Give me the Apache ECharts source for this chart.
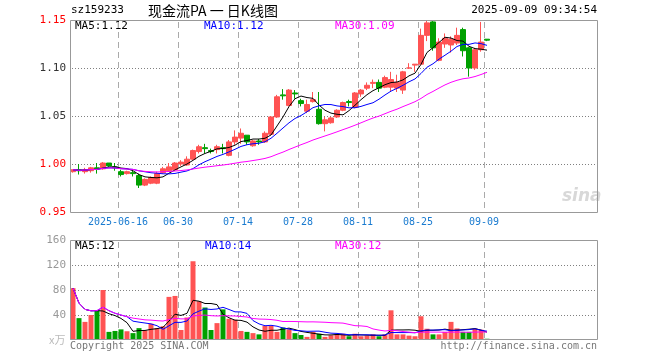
<!DOCTYPE html>
<html><head><meta charset="utf-8">
<script src="https://cdn.jsdelivr.net/npm/echarts@6/dist/echarts.min.js"></script>
<style>html,body{margin:0;padding:0;background:#fff}#c{width:660px;height:360px}</style>
</head><body><div id="c"></div>
<script>
// ---- data ----
const dates = ['2025-06-04','2025-06-05','2025-06-06','2025-06-09','2025-06-10','2025-06-11','2025-06-12','2025-06-13',
'2025-06-16','2025-06-17','2025-06-18','2025-06-19','2025-06-20','2025-06-23','2025-06-24','2025-06-25','2025-06-26','2025-06-27',
'2025-06-30','2025-07-01','2025-07-02','2025-07-03','2025-07-04','2025-07-07','2025-07-08','2025-07-09','2025-07-10','2025-07-11',
'2025-07-14','2025-07-15','2025-07-16','2025-07-17','2025-07-18','2025-07-21','2025-07-22','2025-07-23','2025-07-24','2025-07-25',
'2025-07-28','2025-07-29','2025-07-30','2025-07-31','2025-08-01','2025-08-04','2025-08-05','2025-08-06','2025-08-07','2025-08-08',
'2025-08-11','2025-08-12','2025-08-13','2025-08-14','2025-08-15','2025-08-18','2025-08-19','2025-08-20','2025-08-21','2025-08-22',
'2025-08-25','2025-08-26','2025-08-27','2025-08-28','2025-08-29','2025-09-01','2025-09-02','2025-09-03','2025-09-04','2025-09-05',
'2025-09-08','2025-09-09'];
const openP  = [0.992,0.994,0.992,0.993,0.996,0.995,1.001,0.997,0.992,0.990,0.991,0.988,0.978,0.980,0.980,0.991,0.993,0.994,1.000,0.999,
1.005,1.013,1.017,1.014,1.015,1.017,1.009,1.023,1.027,1.030,1.019,1.024,1.023,1.031,1.049,1.072,1.061,1.074,1.066,1.055,
1.065,1.057,1.042,1.043,1.049,1.056,1.065,1.059,1.073,1.079,1.084,1.085,1.080,1.080,1.079,1.077,1.100,1.103,1.104,1.134,
1.148,1.108,1.125,1.124,1.126,1.140,1.121,1.100,1.119,1.130];
const closeP = [0.994,0.993,0.994,0.996,0.995,1.001,0.998,0.996,0.989,0.992,0.990,0.978,0.984,0.986,0.990,0.995,0.997,1.001,1.002,1.005,
1.014,1.018,1.016,1.013,1.018,1.016,1.023,1.028,1.032,1.023,1.024,1.023,1.032,1.049,1.070,1.071,1.077,1.073,1.063,1.062,
1.067,1.042,1.046,1.048,1.056,1.064,1.064,1.074,1.077,1.082,1.085,1.079,1.090,1.088,1.085,1.096,1.100,1.104,1.134,1.147,
1.121,1.127,1.131,1.130,1.134,1.118,1.100,1.119,1.127,1.129];
const lowP   = [0.991,0.989,0.990,0.991,0.990,0.994,0.997,0.993,0.987,0.989,0.987,0.975,0.977,0.979,0.979,0.990,0.992,0.993,0.998,0.998,
1.004,1.011,1.011,1.011,1.011,1.011,1.008,1.020,1.021,1.020,1.018,1.020,1.022,1.030,1.048,1.067,1.060,1.068,1.060,1.053,
1.064,1.041,1.034,1.042,1.048,1.055,1.060,1.058,1.070,1.077,1.079,1.075,1.079,1.075,1.075,1.073,1.099,1.096,1.104,1.128,
1.118,1.107,1.121,1.116,1.124,1.112,1.091,1.098,1.117,1.128];
const highP  = [0.994,1.000,0.996,0.997,1.001,1.002,1.001,1.001,0.994,0.993,0.993,0.990,0.985,0.987,0.992,0.997,1.001,1.002,1.004,1.008,
1.015,1.020,1.021,1.016,1.020,1.021,1.025,1.035,1.037,1.030,1.025,1.026,1.034,1.050,1.072,1.078,1.078,1.077,1.068,1.067,
1.075,1.075,1.049,1.049,1.057,1.065,1.067,1.075,1.078,1.085,1.088,1.088,1.092,1.096,1.093,1.097,1.105,1.104,1.141,1.150,
1.150,1.131,1.136,1.133,1.142,1.142,1.122,1.121,1.148,1.130];
const volumes = [83,35,29,40,48,80,13,14.5,17,14,11,19,15.5,26,19,22,69,70.5,16,36,
126,62,52,16,27,49,34,32.5,14.5,13,11,9,22.5,22.5,13,20,17,11,8,5,
13,10,5,7.5,9,10,6,10,6,7,9,6,9,47.5,9,9,7,6,38,18,
9,9,13,29,18.5,13,13,18,16.5,2];
const emptySlots = ['f1','f2','f3','f4','f5','f6','f7','f8','f9','f10','f11','f12','f13','f14','f15','f16','f17','f18'];
const labelDates = ['2025-06-16','2025-06-30','2025-07-14','2025-07-28','2025-08-11','2025-08-25','2025-09-09'];
const priceTicks = [0.95, 1.00, 1.05, 1.10, 1.15];
const volTicks = [0, 40, 80, 120, 160];
const priceMaText = ['MA5:1.12', 'MA10:1.12', 'MA30:1.09'];
const volMaText = ['MA5:12', 'MA10:14', 'MA30:12'];
const codeText = 'sz159233';
const titleText = '现金流PA 一 日K线图';
const timeText = '2025-09-09 09:34:54';

// ---- build ----
const RED = '#ff5353', GREEN = '#00a000';
const MONO = '"DejaVu Sans Mono", "Liberation Mono", monospace';
const cats = dates.concat(emptySlots);
function ma(arr, n) {
  return arr.map((_, i) => {
    const s = Math.max(0, i - n + 1); let sum = 0;
    for (let k = s; k <= i; k++) sum += arr[k];
    return +(sum / (i - s + 1)).toFixed(4);
  });
}
const kData = dates.map((d, i) => [openP[i], closeP[i], lowP[i], highP[i]]);
const volData = volumes.map((v, i) => ({ value: v, itemStyle: { color: closeP[i] >= openP[i] ? RED : GREEN } }));
const showIdx = (idx, val) => labelDates.indexOf(val) >= 0;

// layout of the two panels (pixels)
const P1 = { left: 70, top: 20, width: 528, height: 192 };
const P2 = { left: 70, top: 240, width: 528, height: 100 };

const chart = echarts.init(document.getElementById('c'), null, { renderer: 'canvas' });
chart.setOption({
  animation: false,
  backgroundColor: '#fff',
  grid: [
    { left: P1.left, top: P1.top, width: P1.width, height: P1.height },
    { left: P2.left, top: P2.top, width: P2.width, height: P2.height }
  ],
  xAxis: [
    { type: 'category', gridIndex: 0, data: cats, boundaryGap: true,
      axisLine: { show: false }, axisTick: { show: false }, splitLine: { show: false },
      axisLabel: { interval: showIdx, color: '#1a7bd0', fontFamily: MONO, fontSize: 10, margin: 5,
        formatter: v => (v === labelDates[0] ? v : v.slice(5)),
        padding: [0, 6, 0, 0] } },
    { type: 'category', gridIndex: 1, data: cats, boundaryGap: true,
      axisLine: { show: false }, axisTick: { show: false }, splitLine: { show: false }, axisLabel: { show: false } }
  ],
  yAxis: [
    { type: 'value', gridIndex: 0, min: priceTicks[0], max: priceTicks[priceTicks.length - 1], interval: 0.05,
      axisLine: { show: false }, axisTick: { show: false }, splitLine: { show: false },
      axisLabel: { fontFamily: MONO, fontSize: 11, margin: 4, formatter: v => v.toFixed(2),
        color: v => (Math.abs(v - 1.10) < 1e-6 || Math.abs(v - 1.05) < 1e-6) ? '#333' : '#f00' } },
    { type: 'value', gridIndex: 1, min: volTicks[0], max: volTicks[volTicks.length - 1], interval: 40,
      axisLine: { show: false }, axisTick: { show: false }, splitLine: { show: false },
      axisLabel: { fontFamily: MONO, fontSize: 11, margin: 4, color: '#999', showMinLabel: false } }
  ],
  series: [
    { type: 'candlestick', xAxisIndex: 0, yAxisIndex: 0, data: kData, barWidth: 5, z: 3,
      itemStyle: { color: RED, color0: GREEN, borderColor: RED, borderColor0: GREEN, borderWidth: 1 } },
    { type: 'line', xAxisIndex: 0, yAxisIndex: 0, data: ma(closeP, 5), showSymbol: false, z: 4, lineStyle: { color: '#000', width: 1 } },
    { type: 'line', xAxisIndex: 0, yAxisIndex: 0, data: ma(closeP, 10), showSymbol: false, z: 4, lineStyle: { color: '#0000ff', width: 1 } },
    { type: 'line', xAxisIndex: 0, yAxisIndex: 0, data: ma(closeP, 30), showSymbol: false, z: 4, lineStyle: { color: '#ff00ff', width: 1 } },
    { type: 'bar', xAxisIndex: 1, yAxisIndex: 1, data: volData, barWidth: 5, z: 3 },
    { type: 'line', xAxisIndex: 1, yAxisIndex: 1, data: ma(volumes, 5), showSymbol: false, z: 4, lineStyle: { color: '#000', width: 1 } },
    { type: 'line', xAxisIndex: 1, yAxisIndex: 1, data: ma(volumes, 10), showSymbol: false, z: 4, lineStyle: { color: '#0000ff', width: 1 } },
    { type: 'line', xAxisIndex: 1, yAxisIndex: 1, data: ma(volumes, 30), showSymbol: false, z: 4, lineStyle: { color: '#ff00ff', width: 1 } }
  ]
});

// dotted / dashed grid lines, positioned through the library's own axes (drawn as small solid pieces)
const gfx = [];
function hLines(gridIndex, ticks, P) {
  ticks.slice(1, -1).forEach(v => {
    const y = Math.round(chart.convertToPixel({ gridIndex: gridIndex }, [cats[0], v])[1]);
    for (let x = P.left + 2; x < P.left + P.width - 1; x += 3) {
      gfx.push({ type: 'rect', z: 1, silent: true, shape: { x: x, y: y, width: 1, height: 1 }, style: { fill: '#808080' } });
    }
  });
}
function vLines(gridIndex, P) {
  const c0 = chart.convertToPixel({ gridIndex: gridIndex }, [cats[0], 0])[0];
  const c1 = chart.convertToPixel({ gridIndex: gridIndex }, [cats[1], 0])[0];
  const half = (c1 - c0) / 2;
  labelDates.forEach(d => {
    const x = Math.round(chart.convertToPixel({ gridIndex: gridIndex }, [d, 0])[0] - half);
    for (let y = P.top + 2; y < P.top + P.height - 1; y += 10) {
      const h = Math.min(6, P.top + P.height - y);
      gfx.push({ type: 'rect', z: 1, silent: true, shape: { x: x, y: y, width: 1, height: h }, style: { fill: '#aaa' } });
    }
  });
}
hLines(0, priceTicks, P1); hLines(1, volTicks, P2);
vLines(0, P1); vLines(1, P2);
gfx.push(
  { type: 'rect', z: 100, silent: true, shape: { x: P1.left + 0.5, y: P1.top + 0.5, width: P1.width - 1, height: P1.height },
    style: { fill: null, stroke: '#999', lineWidth: 1 } },
  { type: 'rect', z: 100, silent: true, shape: { x: P2.left + 0.5, y: P2.top + 0.5, width: P2.width - 1, height: P2.height - 1 },
    style: { fill: null, stroke: '#999', lineWidth: 1 } },
  { type: 'text', left: 71, top: 5, style: { text: codeText, font: '11px ' + MONO, fill: '#000' } },
  { type: 'text', left: 148, top: 4, style: { text: titleText, font: '14px "Noto Sans CJK SC"', fill: '#000' } },
  { type: 'text', right: 63, top: 5, style: { text: timeText, font: '11px ' + MONO, fill: '#000' } },
  { type: 'text', left: 75, top: 21, style: { text: priceMaText[0], font: '11px ' + MONO, fill: '#000' } },
  { type: 'text', left: 204, top: 21, style: { text: priceMaText[1], font: '11px ' + MONO, fill: '#0000ff' } },
  { type: 'text', left: 335, top: 21, style: { text: priceMaText[2], font: '11px ' + MONO, fill: '#ff00ff' } },
  { type: 'text', left: 75, top: 241, style: { text: volMaText[0], font: '11px ' + MONO, fill: '#000' } },
  { type: 'text', left: 205, top: 241, style: { text: volMaText[1], font: '11px ' + MONO, fill: '#0000ff' } },
  { type: 'text', left: 335, top: 241, style: { text: volMaText[2], font: '11px ' + MONO, fill: '#ff00ff' } },
  { type: 'text', left: 49, top: 334, style: { text: 'x万', font: '11px "Noto Sans CJK SC"', fill: '#bbb' } },
  { type: 'text', left: 70, top: 341, style: { text: 'Copyright 2025 SINA.COM', font: '10px ' + MONO, fill: '#777' } },
  { type: 'text', right: 63, top: 341, style: { text: 'http://finance.sina.com.cn', font: '10px ' + MONO, fill: '#777' } },
  { type: 'text', left: 562, top: 188, style: { text: 'sina', font: 'italic bold 17px "DejaVu Sans"', fill: '#d8d8d8' } }
);
chart.setOption({ graphic: gfx });
</script></body></html>
